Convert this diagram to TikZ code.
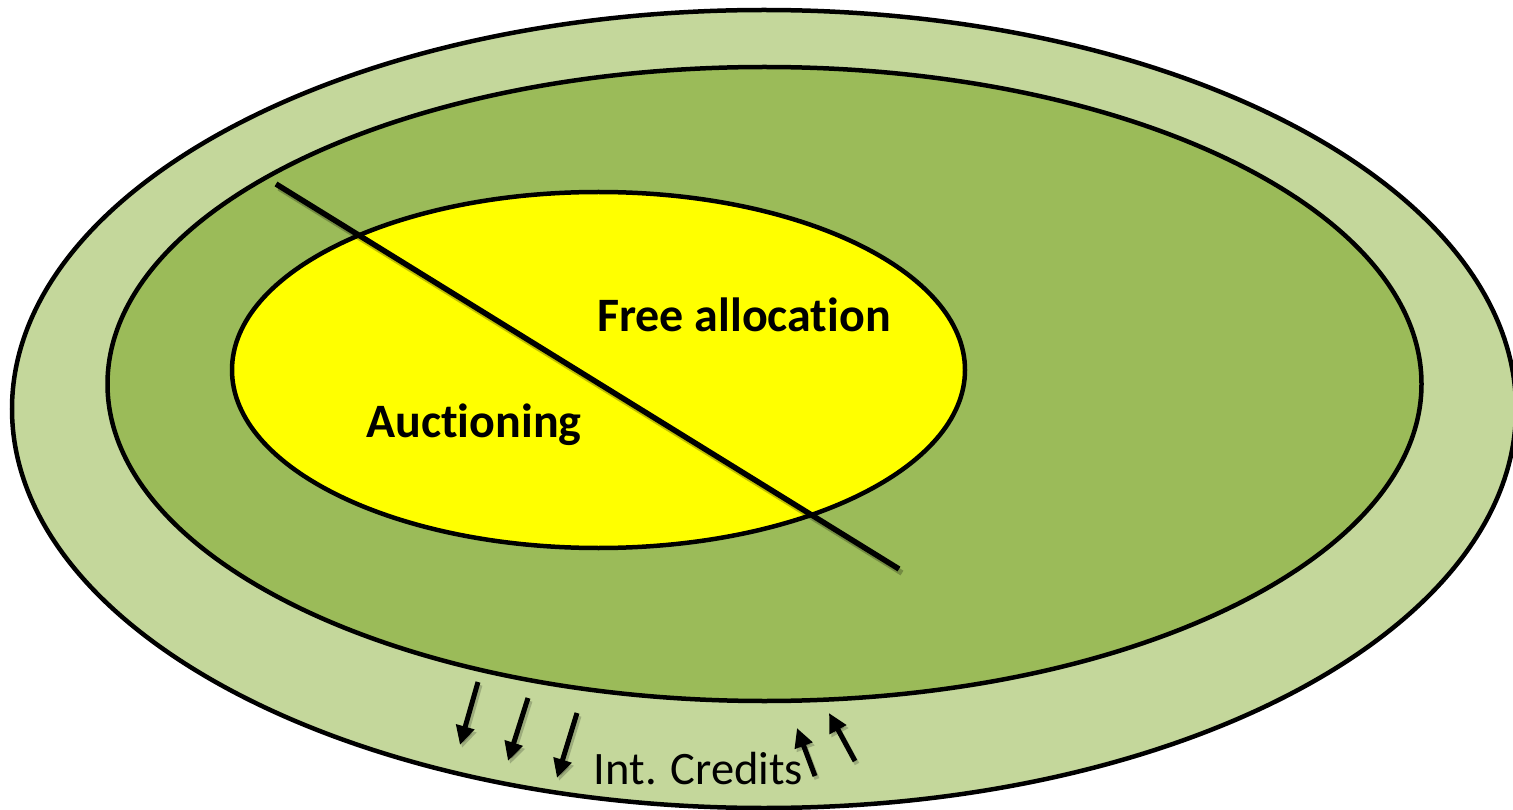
\documentclass[tikz,border=0pt]{standalone}
\usepackage{fontspec}
\setmainfont[Ligatures=NoCommon]{Carlito}
\usetikzlibrary{shapes.geometric,arrows.meta}
\definecolor{ringlight}{HTML}{C4D79B}
\definecolor{ringmid}{HTML}{9BBB59}
\definecolor{core}{HTML}{FFFF00}
\tikzset{
  zone/.style={ellipse, draw=black, line width=4.5pt, inner sep=0pt},
  divider/.style={line width=5.5pt, line cap=butt},
  shade/.style={line width=5.5pt, black, opacity=0.25},
  flow/.style={line width=5pt, -{Triangle[length=19pt,width=18pt]}},
  flowshade/.style={line width=5pt, black, opacity=0.2, -{Triangle[length=19pt,width=18pt]}},
  boldlabel/.style={font=\fontsize{48}{52}\selectfont\bfseries, anchor=base, inner sep=0pt},
  plainlabel/.style={font=\fontsize{46.5}{50}\selectfont, anchor=base, inner sep=0pt},
}
\begin{document}
\begin{tikzpicture}[x=1pt,y=-1pt]
  \clip (0,0) rectangle (1513,810);
  \fill[white] (0,0) rectangle (1513,810);

  % nested zones
  \node[zone, fill=ringlight, minimum width=1504pt, minimum height=798pt] (outer) at (764,409) {};
  \node[zone, fill=ringmid, minimum width=1314pt, minimum height=634pt] (middle) at (764.5,384) {};
  \node[zone, fill=core, minimum width=733pt, minimum height=356pt] (inner) at (598.5,370) {};

  % diagonal split of the core
  \coordinate (d1) at (276,184);
  \coordinate (d2) at (899,569);
  \draw[shade] ([shift={(3,4)}]d1) -- ([shift={(3,4)}]d2);
  \draw[divider] (d1) -- (d2);

  % labels
  \node[boldlabel] (free) at (744,332) {Free allocation};
  \node[boldlabel] (auct) at (474,437) {Auctioning};
  \node[plainlabel] (credits) at (698.5,784) {Int. Credits};

  % credit flows
  \coordinate (a1s) at (478,682); \coordinate (a1e) at (460,745);
  \coordinate (a2s) at (528,698); \coordinate (a2e) at (508,761);
  \coordinate (a3s) at (577,713); \coordinate (a3e) at (557,778);
  \coordinate (a4s) at (815,776); \coordinate (a4e) at (797,728);
  \coordinate (a5s) at (855,761); \coordinate (a5e) at (829,713);
  \foreach \s/\e in {a1s/a1e,a2s/a2e,a3s/a3e,a4s/a4e,a5s/a5e}{
    \draw[flowshade] ([shift={(2,3)}]\s) -- ([shift={(2,3)}]\e);
    \draw[flow] (\s) -- (\e);
  }
\end{tikzpicture}
\end{document}
